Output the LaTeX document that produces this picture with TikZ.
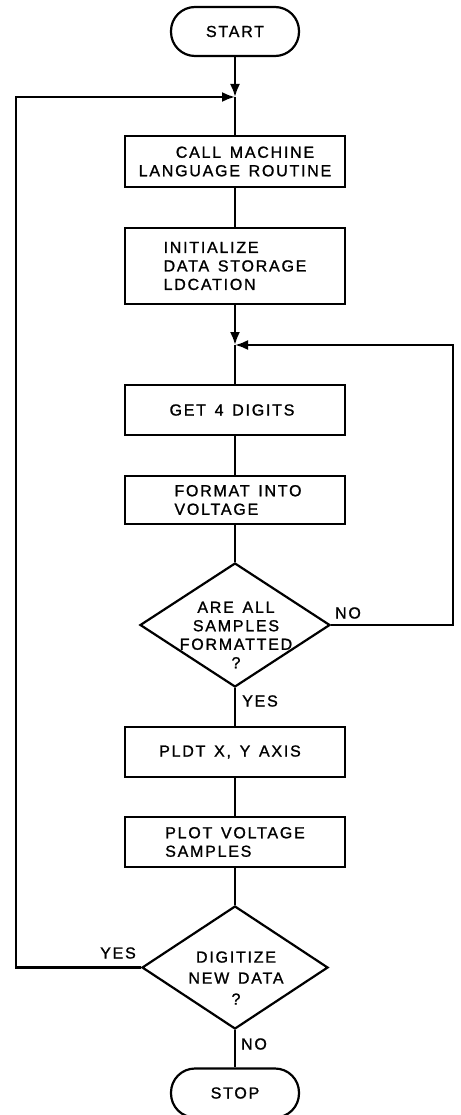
\documentclass[tikz,border=0pt]{standalone}
\usepackage{fontspec}
\setmainfont{Liberation Sans}[LetterSpace=11,WordSpace=1.4,FakeBold=1.2]
\usetikzlibrary{arrows.meta,shapes.geometric}
\begin{document}
\begin{tikzpicture}[x=1pt,y=-1pt,
  line width=2.2pt,
  every node/.style={font=\fontsize{16}{18.5}\selectfont},
  procbox/.style={draw, rectangle, minimum width=220pt, inner sep=0pt, align=center},
  termbox/.style={draw, rectangle, rounded corners=24pt, minimum width=128pt, minimum height=49pt, inner sep=0pt},
  decbox/.style={draw, diamond, inner sep=0pt, minimum width=190pt, minimum height=124pt},
  lbl/.style={inner sep=0pt},
  arr/.style={-{Latex[length=13pt,width=10pt]}}
]
\useasboundingbox (0,0) rectangle (460,1115);

\node[termbox] (start) at (235,31.5) {START};
\coordinate (j1) at (235,97);
\node[procbox, minimum height=51pt] (call) at (235,161.5) {\hspace*{20pt}CALL MACHINE\\LANGUAGE ROUTINE};
\node[procbox, minimum height=76pt, align=left] (init) at (235,266) {INITIALIZE\\DATA STORAGE\\LDCATION};
\coordinate (j2) at (235,345);
\node[procbox, minimum height=50pt] (get) at (235,410) {GET 4 DIGITS\hspace*{6pt}};
\node[procbox, minimum height=48pt, align=left] (fmt) at (235,500) {\hspace*{6pt}FORMAT INTO\\\hspace*{6pt}VOLTAGE};
\node[decbox] (d1) at (235,625) {};
\node[lbl, align=center] (d1t) at (236,635) {ARE ALL\\SAMPLES\\FORMATTED\\?};
\node[procbox, minimum height=50pt] (axis) at (235,752) {PLDT X, Y AXIS\hspace*{10pt}};
\node[procbox, minimum height=50pt, align=left] (plot) at (235,842) {PLOT VOLTAGE\\SAMPLES};
\node[decbox, minimum width=186pt, minimum height=123pt] (d2) at (235,967.5) {};
\node[lbl, align=center, font=\fontsize{16}{21}\selectfont] (d2t) at (236,978) {DIGITIZE\\NEW DATA\\?};
\node[termbox] (stop) at (235,1093) {STOP};

\coordinate (l1) at (16,97);
\coordinate (l2) at (16,967.5);
\coordinate (r1) at (453,345);
\coordinate (r2) at (453,625);

\draw[arr] (start) -- (j1);
\draw[arr] (d2.west) -- (l2) -- (l1) -- (j1);
\draw (j1) -- (call);
\draw (call) -- (init);
\draw[arr] (init) -- (j2);
\draw[arr] (d1.east) -- (r2) -- (r1) -- (j2);
\draw (j2) -- (get);
\draw (get) -- (fmt);
\draw (fmt) -- (d1);
\draw (d1) -- (axis);
\draw (axis) -- (plot);
\draw (plot) -- (d2);
\draw (d2) -- (stop);

\node[lbl] (no1) at (348,613) {NO};
\node[lbl] (yes1) at (260,701) {YES};
\node[lbl] (yes2) at (118,953) {YES};
\node[lbl] (no2) at (254,1044) {NO};
\end{tikzpicture}
\end{document}
